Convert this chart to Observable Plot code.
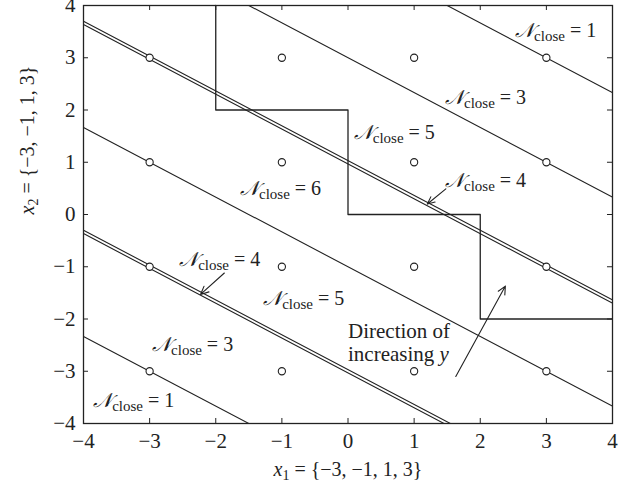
<!DOCTYPE html>
<html>
<head>
<meta charset="utf-8">
<script src="https://cdn.jsdelivr.net/npm/d3@7"></script>
<script src="https://cdn.jsdelivr.net/npm/@observablehq/plot@0.6"></script>
<style>
  body { margin: 0; background: #fff; }
  svg text { font-family: "Liberation Serif", "DejaVu Serif", serif; }
</style>
</head>
<body>
<div id="chart"></div>
<script>
// Constellation points on both axes
const levels = [-3, -1, 1, 3];
// Contour lines x2 = slope * x1 + b
const slope = -2 / 3;
const singleIntercepts = [5, 3, -1, -5];
const doubleIntercepts = [1, -3];
const doubleGap = 0.032;
// Staircase decision boundary
const stairX1 = [-2, -2, 0, 0, 2, 2, 4];
const stairX2 = [4, 2, 2, 0, 0, -2, -2];
// Axis ticks
const tickValues = [-4, -3, -2, -1, 0, 1, 2, 3, 4];
// Region labels
const labelText = ["1", "3", "5", "4", "6", "4", "5", "3", "1"];
const labelX1 = [3.14, 2.08, 0.70, 2.08, -1.02, -1.94, -0.67, -2.35, -3.24];
const labelX2 = [3.52, 2.23, 1.56, 0.64, 0.49, -0.86, -1.60, -2.49, -3.56];
// Pointer arrows: [x1 start, x2 start, x1 end, x2 end]
const pointers = [
  [1.48, 0.49, 1.20, 0.20],
  [-1.87, -1.12, -2.23, -1.53],
  [1.63, -3.10, 2.38, -1.37]
];
const directionText = ["Direction of", "increasing y"];
const directionX2 = [-2.24, -2.68];

const points = levels.flatMap(a => levels.map(b => ({x1: a, x2: b})));
const lineOf = (b, id) => [{x1: -4, x2: -4 * slope + b, id}, {x1: 4, x2: 4 * slope + b, id}];
const lines = [
  ...singleIntercepts.flatMap((b, i) => lineOf(b, "s" + i)),
  ...doubleIntercepts.flatMap((b, i) => [...lineOf(b + doubleGap, "da" + i), ...lineOf(b - doubleGap, "db" + i)])
];
const stairs = stairX1.map((x, i) => ({x1: x, x2: stairX2[i]}));
const labels = labelText.map((t, i) => ({text: "𝒩close = " + t, x1: labelX1[i], x2: labelX2[i]}));
const arrows = pointers.map(([a, b, c, d]) => ({a, b, c, d}));
const direction = directionText.map((t, i) => ({text: t, x2: directionX2[i]}));

const tickLenX = 5 / 66.1, tickLenY = 5 / 52.1;
const ink = "#222";

const chart = Plot.plot({
  width: 632,
  height: 488,
  marginLeft: 83,
  marginRight: 20,
  marginTop: 5,
  marginBottom: 65,
  x: {domain: [-4, 4]},
  y: {domain: [-4, 4]},
  style: {fontFamily: "Liberation Serif", fontSize: "20px", color: ink},
  marks: [
    Plot.line(lines, {x: "x1", y: "x2", z: "id", stroke: ink, strokeWidth: 1.1, clip: true}),
    Plot.line(stairs, {x: "x1", y: "x2", stroke: ink, strokeWidth: 1.3}),
    Plot.dot(points, {x: "x1", y: "x2", r: 3.6, stroke: ink, fill: "white", strokeWidth: 1.1}),
    Plot.arrow(arrows, {x1: "a", y1: "b", x2: "c", y2: "d", stroke: ink, strokeWidth: 1.1, headLength: 12, headAngle: 50}),
    Plot.text(labels, {x: "x1", y: "x2", text: "text", fontSize: 20, fill: ink, className: "nlabel"}),
    Plot.text(direction, {x: 0, y: "x2", text: "text", textAnchor: "start", fontSize: 21, fill: ink, className: "dirlabel"}),
    // inward ticks on all four sides
    Plot.ruleX(tickValues, {x: d => d, y1: -4, y2: -4 + tickLenY, stroke: ink}),
    Plot.ruleX(tickValues, {x: d => d, y1: 4, y2: 4 - tickLenY, stroke: ink}),
    Plot.ruleY(tickValues, {y: d => d, x1: -4, x2: -4 + tickLenX, stroke: ink}),
    Plot.ruleY(tickValues, {y: d => d, x1: 4, x2: 4 - tickLenX, stroke: ink}),
    Plot.axisX(tickValues, {tickSize: 0, tickPadding: 10, fontSize: 21, label: null, fill: ink, tickFormat: d3.format("d")}),
    Plot.axisY(tickValues, {tickSize: 0, tickPadding: 8, fontSize: 21, label: null, fill: ink, tickFormat: d3.format("d")}),
    Plot.text(["x1 = {−3, −1, 1, 3}"], {frameAnchor: "bottom", dy: 52, fontSize: 20, fill: ink, className: "axlabel"}),
    Plot.text(["x2 = {−3, −1, 1, 3}"], {frameAnchor: "left", dx: -56, rotate: -90, fontSize: 20, fill: ink, className: "axlabel"}),
    Plot.frame({stroke: ink, strokeWidth: 1.3})
  ]
});

document.getElementById("chart").append(chart);

const svgNS = "http://www.w3.org/2000/svg";
const span = (text, attrs = {}) => {
  const s = document.createElementNS(svgNS, "tspan");
  for (const [k, v] of Object.entries(attrs)) s.setAttribute(k, v);
  s.textContent = text;
  return s;
};

// Typeset script N with subscript "close"
chart.querySelectorAll(".nlabel text").forEach(t => {
  const m = t.textContent.match(/^𝒩close = (.+)$/);
  if (!m) return;
  t.textContent = "";
  t.append(
    span("𝒩", {"font-style": "italic"}),
    span("close", {"font-size": "15", dy: "4"}),
    span(" = " + m[1], {dy: "-4"})
  );
});

// Italic y in the direction note
chart.querySelectorAll(".dirlabel text").forEach(t => {
  const s = t.textContent;
  if (!s.endsWith(" y")) return;
  t.textContent = s.slice(0, -1);
  t.append(span("y", {"font-style": "italic"}));
});

// Italic x with numeric subscript on the axis labels
chart.querySelectorAll(".axlabel text").forEach(t => {
  const m = t.textContent.match(/^x(\d)(.*)$/);
  if (!m) return;
  t.textContent = "";
  t.append(
    span("x", {"font-style": "italic"}),
    span(m[1], {"font-size": "14", dy: "4"}),
    span(m[2], {dy: "-4"})
  );
});
</script>
</body>
</html>
